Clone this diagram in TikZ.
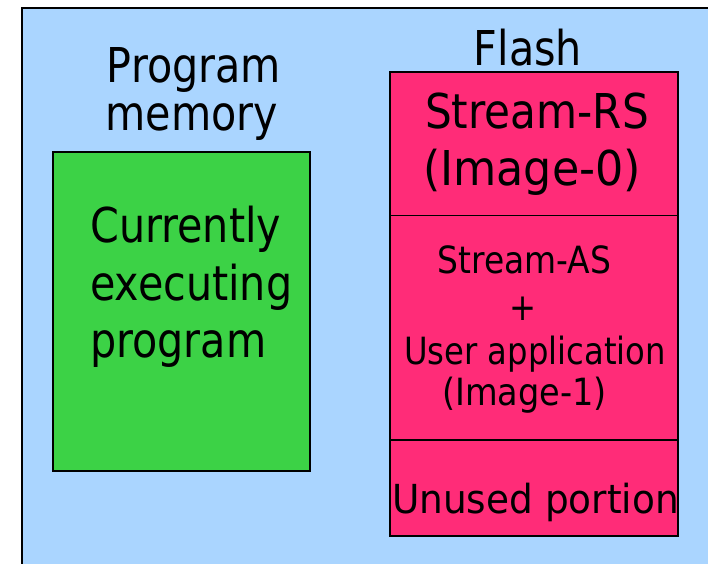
\documentclass[tikz,border=0pt]{standalone}
\usepackage{fontspec}
\setmainfont[FakeStretch=0.86]{DejaVu Sans}
\definecolor{bgblue}{RGB}{170,213,255}
\definecolor{codegreen}{RGB}{60,210,70}
\definecolor{flashpink}{RGB}{255,44,120}
\begin{document}
\begin{tikzpicture}[x=1pt,y=-1pt,
  region/.style={draw=black,line width=1.4pt},
  txt/.style={anchor=base,inner sep=0pt,font=\fontsize{48}{48}\selectfont},
  small/.style={anchor=base,inner sep=0pt,font=\fontsize{37.5}{37.5}\selectfont},
  mid/.style={anchor=base,inner sep=0pt,font=\fontsize{40}{40}\selectfont}]
\useasboundingbox (0,0) rectangle (708,563);
% background panel, running off the right and bottom edges
\begin{scope}
\clip (0,0) rectangle (708,563);
\draw[fill=bgblue,draw=black,line width=2.2pt] (22,8) rectangle (730,590);
\end{scope}
% program memory
\draw[region,fill=codegreen] (53,152) rectangle (310,471);
\node[txt] (pm1) at (194,82) {Program};
\node[txt] (pm2) at (192,130) {memory};
\node[txt,anchor=base west] (cur1) at (90,242) {Currently};
\node[txt,anchor=base west] (cur2) at (90,300) {executing};
\node[txt,anchor=base west] (cur3) at (90,357) {program};
% flash partitions
\draw[region,fill=flashpink] (390,72) rectangle (678,536);
\draw[region] (390,215.5) -- (678,215.5);
\draw[region] (390,440) -- (678,440);
\node[txt] (fl) at (528,65) {Flash};
\node[txt] (rs1) at (537,128.5) {\scalebox{1.02}[1]{Stream-RS}};
\node[txt] (rs2) at (532,185) {\scalebox{1.075}[1]{(Image-0)}};
\node[small] (as1) at (524.5,273) {\scalebox{1.02}[1]{Stream-AS}};
\node[small] (as2) at (523,320) {+};
\node[small] (as3) at (535,364) {User application};
\node[small] (as4) at (524.5,405) {\scalebox{1.04}[1]{(Image-1)}};
\node[mid] (un) at (535.5,513) {\scalebox{1.088}[1]{Unused portion}};
\end{tikzpicture}
\end{document}
